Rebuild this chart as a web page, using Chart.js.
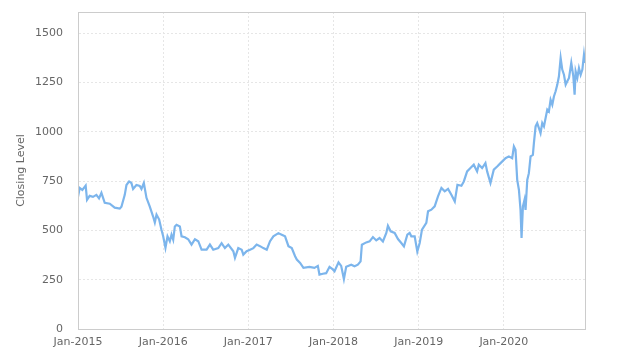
<!DOCTYPE html>
<html>
<head>
    <meta charset="UTF-8">
    <script src="https://cdn.jsdelivr.net/npm/chart.js@4.4.0/dist/chart.umd.min.js"></script>
    <title>Closing Level</title>
    <style>
        body { margin: 0; background: #fff; overflow: hidden; }
    </style>
</head>
<body>
    <canvas id="lineChart" width="624" height="363"></canvas>

    <script>
        // dates as fractional years, closing values
        const dates = [
            2015.000, 2015.020, 2015.051, 2015.090, 2015.106, 2015.137, 2015.176, 2015.216, 2015.247, 2015.275,
            2015.314, 2015.373, 2015.431, 2015.490, 2015.510, 2015.549, 2015.569, 2015.600, 2015.627, 2015.647,
            2015.686, 2015.725, 2015.745, 2015.773, 2015.804, 2015.843, 2015.882, 2015.902, 2015.922, 2015.953,
            2015.980, 2016.000, 2016.027, 2016.051, 2016.078, 2016.098, 2016.118, 2016.137, 2016.157, 2016.196,
            2016.216, 2016.255, 2016.294, 2016.333, 2016.373, 2016.412, 2016.451, 2016.510, 2016.549, 2016.588,
            2016.647, 2016.686, 2016.725, 2016.765, 2016.824, 2016.843, 2016.882, 2016.922, 2016.941, 2016.980,
            2017.020, 2017.059, 2017.098, 2017.137, 2017.176, 2017.216, 2017.255, 2017.294, 2017.353, 2017.392,
            2017.431, 2017.471, 2017.510, 2017.549, 2017.569, 2017.608, 2017.647, 2017.718, 2017.776, 2017.816,
            2017.835, 2017.875, 2017.914, 2017.953, 2017.992, 2018.012, 2018.059, 2018.090, 2018.122, 2018.149,
            2018.208, 2018.247, 2018.286, 2018.318, 2018.333, 2018.384, 2018.424, 2018.463, 2018.502, 2018.541,
            2018.580, 2018.620, 2018.639, 2018.671, 2018.718, 2018.757, 2018.796, 2018.827, 2018.867, 2018.894,
            2018.914, 2018.953, 2018.984, 2019.012, 2019.039, 2019.090, 2019.110, 2019.149, 2019.188, 2019.227,
            2019.267, 2019.306, 2019.345, 2019.384, 2019.424, 2019.455, 2019.502, 2019.530, 2019.569, 2019.608,
            2019.647, 2019.686, 2019.706, 2019.745, 2019.784, 2019.804, 2019.843, 2019.882, 2019.922, 2019.961,
            2020.020, 2020.059, 2020.098, 2020.118, 2020.137, 2020.157, 2020.177, 2020.196, 2020.208, 2020.224,
            2020.243, 2020.255, 2020.275, 2020.294, 2020.314, 2020.341, 2020.353, 2020.373, 2020.392, 2020.412,
            2020.431, 2020.451, 2020.471, 2020.510, 2020.529, 2020.549, 2020.569, 2020.588, 2020.608, 2020.628,
            2020.647, 2020.667, 2020.686, 2020.706, 2020.726, 2020.745, 2020.765, 2020.792, 2020.816, 2020.831,
            2020.843, 2020.863, 2020.882, 2020.902, 2020.922, 2020.941, 2020.953
        ];
        const closes = [
            670, 715, 705, 727, 655, 675, 670, 680, 662, 690,
            640, 635, 615, 610, 620, 680, 730, 748, 740, 710,
            730, 725, 710, 740, 665, 620, 570, 540, 580, 555,
            503, 470, 412, 470, 445, 478, 452, 520, 528, 520,
            470, 465, 455, 428, 455, 445, 402, 402, 428, 402,
            410, 435, 410, 428, 394, 361, 410, 402, 377, 394,
            402, 410, 428, 420, 410, 402, 445, 470, 486, 478,
            470, 420, 410, 369, 352, 335, 310, 315, 310, 320,
            276, 280, 283, 315, 302, 293, 338, 320, 253, 315,
            326, 318, 326, 343, 427, 439, 444, 466, 449, 461,
            444, 487, 523, 495, 487, 456, 436, 419, 478, 487,
            470, 470, 393, 436, 504, 538, 597, 605, 622, 672,
            715, 698, 710, 681, 647, 731, 726, 748, 799, 816,
            833, 799, 833, 816, 841, 799, 740, 808, 824, 841,
            866, 875, 866, 925, 908, 756, 706, 604, 461, 621,
            655, 604, 756, 790, 875, 883, 942, 1027, 1044, 1018,
            993, 1044, 1027, 1112, 1103, 1162, 1137, 1179, 1205, 1239,
            1281, 1374, 1315, 1289, 1239, 1256, 1273, 1349, 1281, 1188,
            1306, 1273, 1323, 1289, 1315, 1391, 1349
        ];
        const yTickStep = 250;
        const xStartYear = 2015;

        const plotBorder = {
            id: 'plotBorder',
            afterDraw(chart) {
                const a = chart.chartArea;
                const ctx = chart.ctx;
                ctx.save();
                ctx.strokeStyle = '#cccccc';
                ctx.lineWidth = 1;
                ctx.strokeRect(a.left + 0.5, a.top + 0.5, a.right - a.left, a.bottom - a.top);
                ctx.restore();
            }
        };

        const ctx = document.getElementById('lineChart').getContext('2d');
        new Chart(ctx, {
            type: 'line',
            data: {
                datasets: [{
                    label: 'Closing Level',
                    data: dates.map((d, i) => ({ x: d, y: closes[i] })),
                    borderColor: '#7cb5ec',
                    borderWidth: 2.2,
                    pointRadius: 0,
                    tension: 0,
                    fill: false
                }]
            },
            options: {
                responsive: false,
                animation: false,
                layout: { padding: { top: 12, right: 39, left: 0, bottom: 0 } },
                plugins: {
                    legend: { display: false },
                    tooltip: { enabled: false }
                },
                scales: {
                    x: {
                        type: 'linear',
                        min: xStartYear,
                        max: dates[dates.length - 1],
                        afterBuildTicks: axis => {
                            axis.ticks = axis.ticks.filter(t => Number.isInteger(t.value));
                        },
                        afterFit: axis => {
                            axis.height = 34;
                            axis.paddingLeft = 0;
                            axis.paddingRight = 0;
                        },
                        ticks: {
                            stepSize: 1,
                            autoSkip: false,
                            color: '#666666',
                            font: { family: 'DejaVu Sans', size: 11 },
                            padding: 7,
                            maxRotation: 0,
                            callback: v => 'Jan-' + v
                        },
                        grid: { color: '#e6e6e6', drawTicks: false },
                        border: { color: '#ccd6eb', dash: [2, 2] }
                    },
                    y: {
                        min: 0,
                        max: 1607,
                        afterBuildTicks: axis => {
                            axis.ticks = axis.ticks.filter(t => t.value % yTickStep === 0);
                        },
                        afterFit: axis => {
                            axis.width = 78;
                            axis.paddingTop = 0;
                            axis.paddingBottom = 0;
                        },
                        ticks: {
                            stepSize: yTickStep,
                            autoSkip: false,
                            color: '#666666',
                            font: { family: 'DejaVu Sans', size: 11 },
                            padding: 15,
                            callback: v => String(v)
                        },
                        title: {
                            display: true,
                            text: 'Closing Level',
                            color: '#666666',
                            font: { family: 'DejaVu Sans', size: 11 },
                            padding: { top: 15, bottom: 4 }
                        },
                        grid: { color: '#e6e6e6', drawTicks: false },
                        border: { color: '#ccd6eb', dash: [2, 2] }
                    }
                }
            },
            plugins: [plotBorder]
        });
    </script>
</body>
</html>
